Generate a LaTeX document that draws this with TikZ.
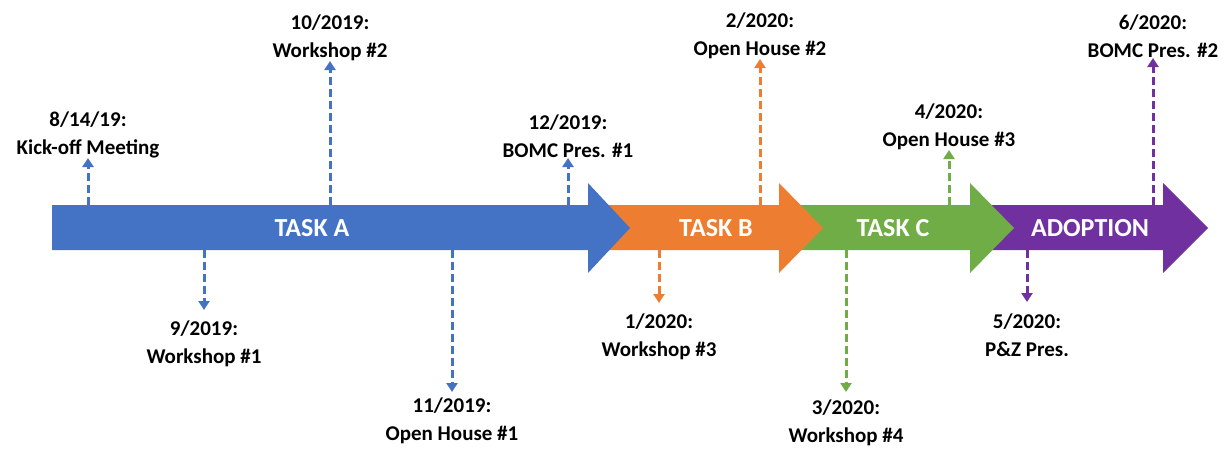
\documentclass[tikz,border=0pt]{standalone}
\usepackage{fontspec}
\setmainfont{Carlito}
\usetikzlibrary{arrows.meta}
\definecolor{taskA}{HTML}{4472C4}
\definecolor{taskB}{HTML}{ED7D31}
\definecolor{taskC}{HTML}{70AD47}
\definecolor{adopt}{HTML}{7030A0}

\begin{document}
\begin{tikzpicture}[x=1pt, y=-1pt,
    lbl/.style={font=\bfseries\fontsize{21}{28}\selectfont, align=center, inner sep=0pt},
    up/.style={lbl, anchor=south},
    dn/.style={lbl, anchor=north, outer ysep=#1}, dn/.default=11pt,
    phase/.style={font=\bfseries\fontsize{26}{30}\selectfont, text=white},
    evt/.style={line width=3pt, dash pattern=on 8pt off 4pt, -{Triangle[width=11pt,length=9pt]}}]
  \useasboundingbox (0,0) rectangle (1228,448);

  % Phase arrows, drawn right to left so each head lies over the next body
  \foreach \a/\b/\c/\col in {970/1163/1208/adopt, 779/970/1014/taskC, 588/779/823/taskB, 52/588/630/taskA}
    \fill[\col] (\a,205) -- (\b,205) -- (\b,183) -- (\c,228) -- (\b,273) -- (\b,250) -- (\a,250) -- cycle;

  \node[phase] (tA) at (312,228) {TASK A};
  \node[phase] (tB) at (716,228) {TASK B};
  \node[phase] (tC) at (893,228) {TASK C};
  \node[phase] (tD) at (1090,228) {ADOPTION};

  % Milestones above the timeline
  \node[up] (kick) at (88,158) {8/14/19:\\Kick-off Meeting};
  \node[up] (ws2) at (330,61) {10/2019:\\Workshop \#2};
  \node[up] (bomc1) at (568,158) {12/2019:\\BOMC Pres. \#1};
  \node[up] (oh2) at (760,59) {2/2020:\\Open House \#2};
  \node[up] (oh3) at (949,150) {4/2020:\\Open House \#3};
  \node[up] (bomc2) at (1153,58) {6/2020:\\BOMC Pres. \#2};

  % Milestones below the timeline
  \node[dn] (ws1) at (204,310) {9/2019:\\Workshop \#1};
  \node[dn=6pt] (oh1) at (452,392) {11/2019:\\Open House \#1};
  \node[dn] (ws3) at (659,303) {1/2020:\\Workshop \#3};
  \node[dn=8pt] (ws4) at (846,392) {3/2020:\\Workshop \#4};
  \node[dn=12pt] (pz) at (1027,302) {5/2020:\\P\&Z Pres.};

  % where each marker leaves the bar
  \coordinate (kick0) at (88,205);
  \coordinate (ws20) at (330,205);
  \coordinate (bomc10) at (568,205);
  \coordinate (oh20) at (760,205);
  \coordinate (oh30) at (949,205);
  \coordinate (bomc20) at (1153,205);
  \coordinate (ws10) at (204,250);
  \coordinate (oh10) at (452,250);
  \coordinate (ws30) at (659,250);
  \coordinate (ws40) at (846,250);
  \coordinate (pz0) at (1027,250);

  \draw[evt, taskA] (kick0) -- (kick);
  \draw[evt, taskA] (ws20) -- (ws2);
  \draw[evt, taskA] (bomc10) -- (bomc1);
  \draw[evt, taskA] (ws10) -- (ws1);
  \draw[evt, taskA] (oh10) -- (oh1);
  \draw[evt, taskB] (oh20) -- (oh2);
  \draw[evt, taskB] (ws30) -- (ws3);
  \draw[evt, taskC] (oh30) -- (oh3);
  \draw[evt, taskC] (ws40) -- (ws4);
  \draw[evt, adopt] (bomc20) -- (bomc2);
  \draw[evt, adopt] (pz0) -- (pz);
\end{tikzpicture}
\end{document}
